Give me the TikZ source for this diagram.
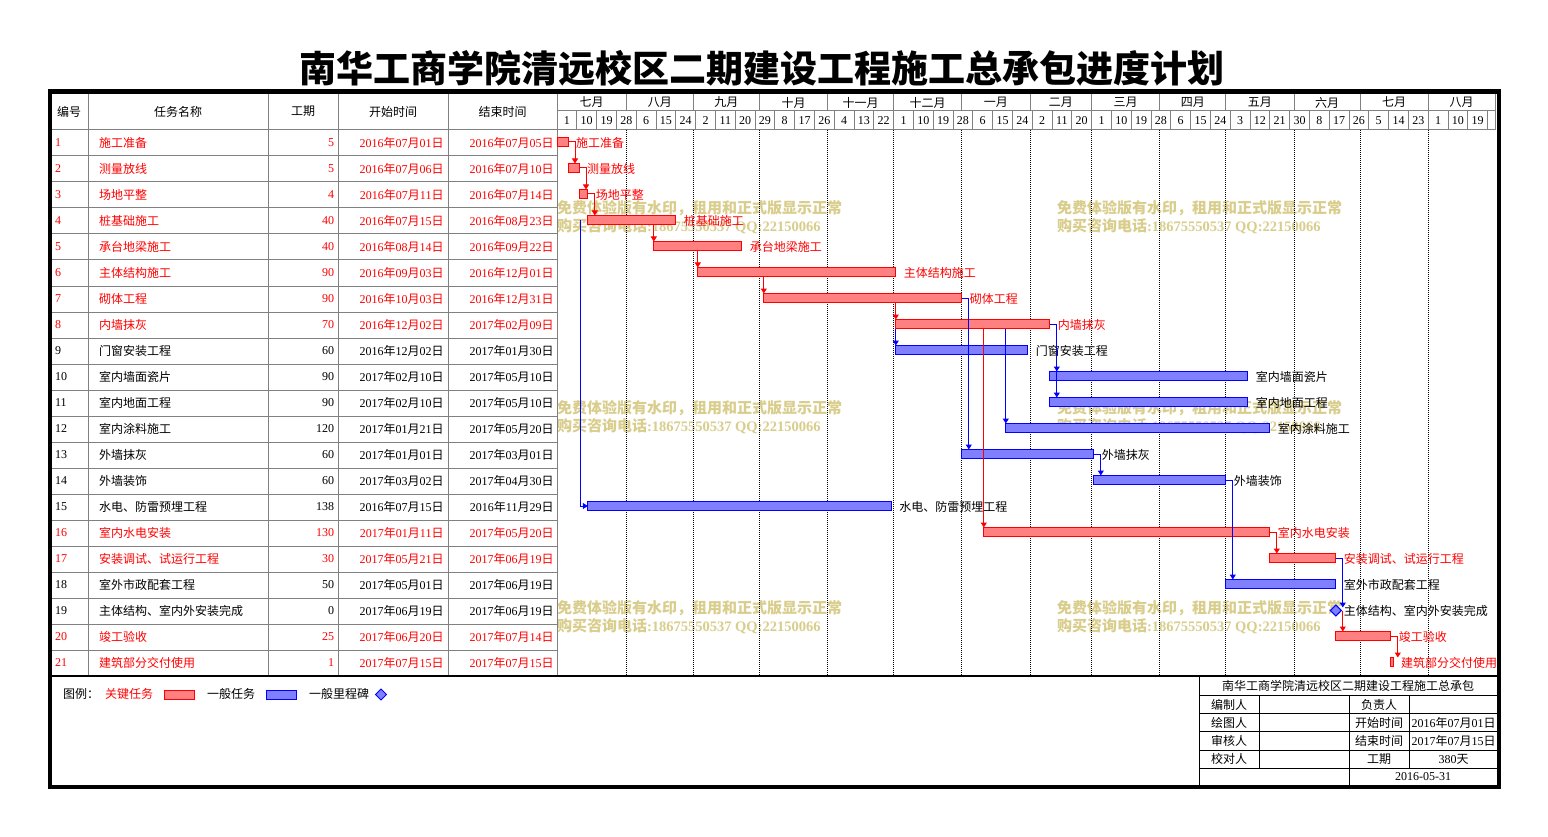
\documentclass[tikz,border=0pt]{standalone}
\usepackage{fontspec}
\setmainfont{Noto Sans CJK SC}
\newfontfamily\latf{Liberation Serif}
\usetikzlibrary{arrows.meta,shapes.geometric}
\definecolor{gridgray}{RGB}{128,128,128}
\definecolor{wmcol}{RGB}{217,205,140}
\definecolor{redfill}{RGB}{255,128,128}
\definecolor{bluefill}{RGB}{128,128,255}
\newcommand\mydate[3]{{\latf #1}年{\latf #2}月{\latf #3}日}
\begin{document}
\begin{tikzpicture}[x=1pt,y=-1pt,
  font=\fontsize{12}{14}\selectfont,
  tx/.style={inner sep=0pt, outer sep=0pt},
  gl/.style={draw=gridgray, line width=1pt},
  bl/.style={draw=black, line width=1pt},
  dotline/.style={draw=black, line width=1pt, dash pattern=on 1pt off 1pt},
  redbar/.style={draw=red, fill=redfill, line width=1pt, inner sep=0pt, outer sep=0pt, minimum height=9pt},
  bluebar/.style={draw=blue, fill=bluefill, line width=1pt, inner sep=0pt, outer sep=0pt, minimum height=9pt},
  msdia/.style={diamond, draw=blue, fill=bluefill, line width=1pt, inner sep=0pt, outer sep=0pt, minimum size=11pt},
  rlink/.style={draw=red, line width=1pt, -{Triangle[length=5pt,width=6pt]}},
  blink/.style={draw=blue, line width=1pt, -{Triangle[length=5pt,width=6pt]}},
  wm/.style={tx, text=wmcol, anchor=west, font=\fontsize{15}{17}\selectfont\bfseries},
]
\useasboundingbox (0,0) rectangle (1548,837);
\fill[white] (0,0) rectangle (1548,837);

% title
\node[tx, font=\fontsize{37}{40}\selectfont\bfseries] (title) at (762,68) {南华工商学院清远校区二期建设工程施工总承包进度计划};

% watermarks
\foreach \wx/\wy [count=\w] in {557/208, 1057/208, 557/408, 1057/408, 557/608, 1057/608} {
  \node[wm] (wma\w) at (\wx,\wy) {免费体验版有水印，租用和正式版显示正常};
  \node[wm] (wmb\w) at (\wx,{\wy+18}) {购买咨询电话{\latf\bfseries\fontsize{14.5}{16}\selectfont :18675550537 QQ:22150066}};
}

% table grid
\foreach \gx in {88,268,338,448,557} { \draw[gl] (\gx,94) -- (\gx,676); }
\draw[gl] (50,130) -- (1495,130);
\foreach \k in {1,...,20} { \draw[gl] (50,{130+26*\k}) -- (557,{130+26*\k}); }
\draw[gl] (557,111) -- (1495,111);
\draw[gl] (1495,94) -- (1495,130);

% header texts
\node[tx] (h1) at (69,111.5) {编号};
\node[tx] (h2) at (178,111.5) {任务名称};
\node[tx] (h3) at (303,111.5) {工期};
\node[tx] (h4) at (393,111.5) {开始时间};
\node[tx] (h5) at (502.5,111.5) {结束时间};

% month header
\foreach \xa/\xb/\mn [count=\k] in {557/626.2/七月, 626.2/693.4/八月, 693.4/759.4/九月, 759.4/827.6/十月, 827.6/893.6/十一月, 893.6/961.8/十二月, 961.8/1030/一月, 1030/1091.6/二月, 1091.6/1159.8/三月, 1159.8/1225.8/四月, 1225.8/1294/五月, 1294/1360/六月, 1360/1428.2/七月, 1428.2/1495/八月} {
  \node[tx] (mo\k) at ({(\xa+\xb)/2},102.5) {\mn};
  \draw[gl] (\xb,94) -- (\xb,111);
}
% day header
\foreach \dd [count=\k from 0] in {1,10,19,28,6,15,24,2,11,20,29,8,17,26,4,13,22,1,10,19,28,6,15,24,2,11,20,1,10,19,28,6,15,24,3,12,21,30,8,17,26,5,14,23,1,10,19} {
  \node[tx] (dl\k) at ({557+19.8*\k+9.9},120.5) {\latf\dd};
  \draw[gl] ({557+19.8*(\k+1)},111) -- ({557+19.8*(\k+1)},130);
}
% month dotted lines
\foreach \mx in {626.2,693.4,759.4,827.6,893.6,961.8,1030,1091.6,1159.8,1225.8,1294,1360,1428.2} {
  \draw[dotline] (\mx,130) -- (\mx,676);
}

% rows
\foreach \i/\nm/\du/\ya/\ma/\da/\yb/\mb/\db/\s/\e/\tcol/\bsty in {
 1/施工准备/5/2016/07/01/2016/07/05/0/5/red/redbar,
 2/测量放线/5/2016/07/06/2016/07/10/5/10/red/redbar,
 3/场地平整/4/2016/07/11/2016/07/14/10/14/red/redbar,
 4/桩基础施工/40/2016/07/15/2016/08/23/14/54/red/redbar,
 5/承台地梁施工/40/2016/08/14/2016/09/22/44/84/red/redbar,
 6/主体结构施工/90/2016/09/03/2016/12/01/64/154/red/redbar,
 7/砌体工程/90/2016/10/03/2016/12/31/94/184/red/redbar,
 8/内墙抹灰/70/2016/12/02/2017/02/09/154/224/red/redbar,
 9/门窗安装工程/60/2016/12/02/2017/01/30/154/214/black/bluebar,
 10/室内墙面瓷片/90/2017/02/10/2017/05/10/224/314/black/bluebar,
 11/室内地面工程/90/2017/02/10/2017/05/10/224/314/black/bluebar,
 12/室内涂料施工/120/2017/01/21/2017/05/20/204/324/black/bluebar,
 13/外墙抹灰/60/2017/01/01/2017/03/01/184/244/black/bluebar,
 14/外墙装饰/60/2017/03/02/2017/04/30/244/304/black/bluebar,
 15/水电、防雷预埋工程/138/2016/07/15/2016/11/29/14/152/black/bluebar,
 16/室内水电安装/130/2017/01/11/2017/05/20/194/324/red/redbar,
 17/安装调试、试运行工程/30/2017/05/21/2017/06/19/324/354/red/redbar,
 18/室外市政配套工程/50/2017/05/01/2017/06/19/304/354/black/bluebar,
 19/主体结构、室内外安装完成/0/2017/06/19/2017/06/19/354/354/black/bluebar,
 20/竣工验收/25/2017/06/20/2017/07/14/354/379/red/redbar,
 21/建筑部分交付使用/1/2017/07/15/2017/07/15/379/380/red/redbar}
{
  \pgfmathsetmacro\yc{143+26*(\i-1)}
  \pgfmathsetmacro\yt{130+26*(\i-1)}
  \node[tx, anchor=west, text=\tcol] (no\i) at (55,\yc) {\latf\i};
  \node[tx, anchor=west, text=\tcol] (nm\i) at (99,\yc) {\nm};
  \node[tx, anchor=east, text=\tcol] (du\i) at (334,\yc) {\latf\du};
  \node[tx, anchor=east, text=\tcol] (sd\i) at (443.5,\yc) {\mydate{\ya}{\ma}{\da}};
  \node[tx, anchor=east, text=\tcol] (ed\i) at (553.5,\yc) {\mydate{\yb}{\mb}{\db}};
  \ifnum\s=\e\relax
    \node[msdia] (b\i) at ({557+2.2*\s},{\yc-0.5}) {};
  \else
    \node[\bsty, minimum width={2.2*(\e-\s)}, anchor=north west] (b\i) at ({557+2.2*\s},{\yt+7.5}) {};
  \fi
  \node[tx, anchor=west, text=\tcol] (l\i) at ({557+2.2*\e+8},\yc) {\nm};
}

% links: finish -> start (offset right of predecessor end)
\foreach \p/\q/\st in {1/2/rlink, 2/3/rlink, 3/4/rlink, 7/13/blink, 8/10/blink, 8/11/blink, 13/14/blink, 14/18/blink, 16/17/rlink, 20/21/rlink} {
  \coordinate (k\p) at ([xshift=7pt]b\p.east);
  \draw[\st] (b\p.east) -- (k\p) -- (k\p |- b\q.north);
}
% links: from predecessor bar bottom at successor start
\foreach \p/\q/\st in {4/5/rlink, 5/6/rlink, 6/7/rlink, 7/8/rlink, 8/9/blink, 8/12/blink, 8/16/rlink} {
  \draw[\st] (b\q.north west |- b\p.south) -- (b\q.north west);
}
% start-to-start link 4 -> 15
\coordinate (s4) at ([xshift=-7pt]b4.west);
\draw[blink] (s4) |- (b15.west);
% 17 -> milestone 19 -> 20
\coordinate (k17) at ([xshift=7pt]b17.east);
\coordinate (m19) at ([yshift=3pt]b19.center);
\draw[blink] (b17.east) -- (k17) -- (k17 |- m19);
\draw[rlink] (k17 |- b19.center) -- (k17 |- b20.north);

% legend
\node[tx, anchor=west] (lg0) at (63,694) {图例：};
\node[tx, anchor=west, text=red] (lg1) at (105,694) {关键任务};
\node[redbar, minimum width=30pt, anchor=west] (lg2) at (164,694.5) {};
\node[tx, anchor=west] (lg3) at (207,694) {一般任务};
\node[bluebar, minimum width=30pt, anchor=west] (lg4) at (266,694.5) {};
\node[tx, anchor=west] (lg5) at (309,694) {一般里程碑};
\node[msdia] (lg6) at (381,694.5) {};

% table bottom line
\draw[line width=1.5pt] (50,676) -- (1499,676);

% title block
\draw[bl] (1199,676) -- (1199,787);
\foreach \ty in {695,713.3,731.7,750,768} { \draw[bl] (1199,\ty) -- (1499,\ty); }
\draw[bl] (1259.3,695) -- (1259.3,768);
\draw[bl] (1409,695) -- (1409,768);
\draw[bl] (1349.3,695) -- (1349.3,787);
\node[tx] (tb0) at (1348,686) {南华工商学院清远校区二期建设工程施工总承包};
\node[tx] (tb1) at (1229,704.5) {编制人};
\node[tx] (tb2) at (1379,704.5) {负责人};
\node[tx] (tb3) at (1229,722.8) {绘图人};
\node[tx] (tb4) at (1379,722.8) {开始时间};
\node[tx] (tb5) at (1453.5,722.8) {\mydate{2016}{07}{01}};
\node[tx] (tb6) at (1229,741) {审核人};
\node[tx] (tb7) at (1379,741) {结束时间};
\node[tx] (tb8) at (1453.5,741) {\mydate{2017}{07}{15}};
\node[tx] (tb9) at (1229,759.2) {校对人};
\node[tx] (tb10) at (1379,759.2) {工期};
\node[tx] (tb11) at (1453.5,759.2) {{\latf 380}天};
\node[tx] (tb12) at (1423,777) {\latf 2016-05-31};

% outer border
\draw[line width=4.5pt] (50,91.5) rectangle (1499,787);
\end{tikzpicture}
\end{document}
